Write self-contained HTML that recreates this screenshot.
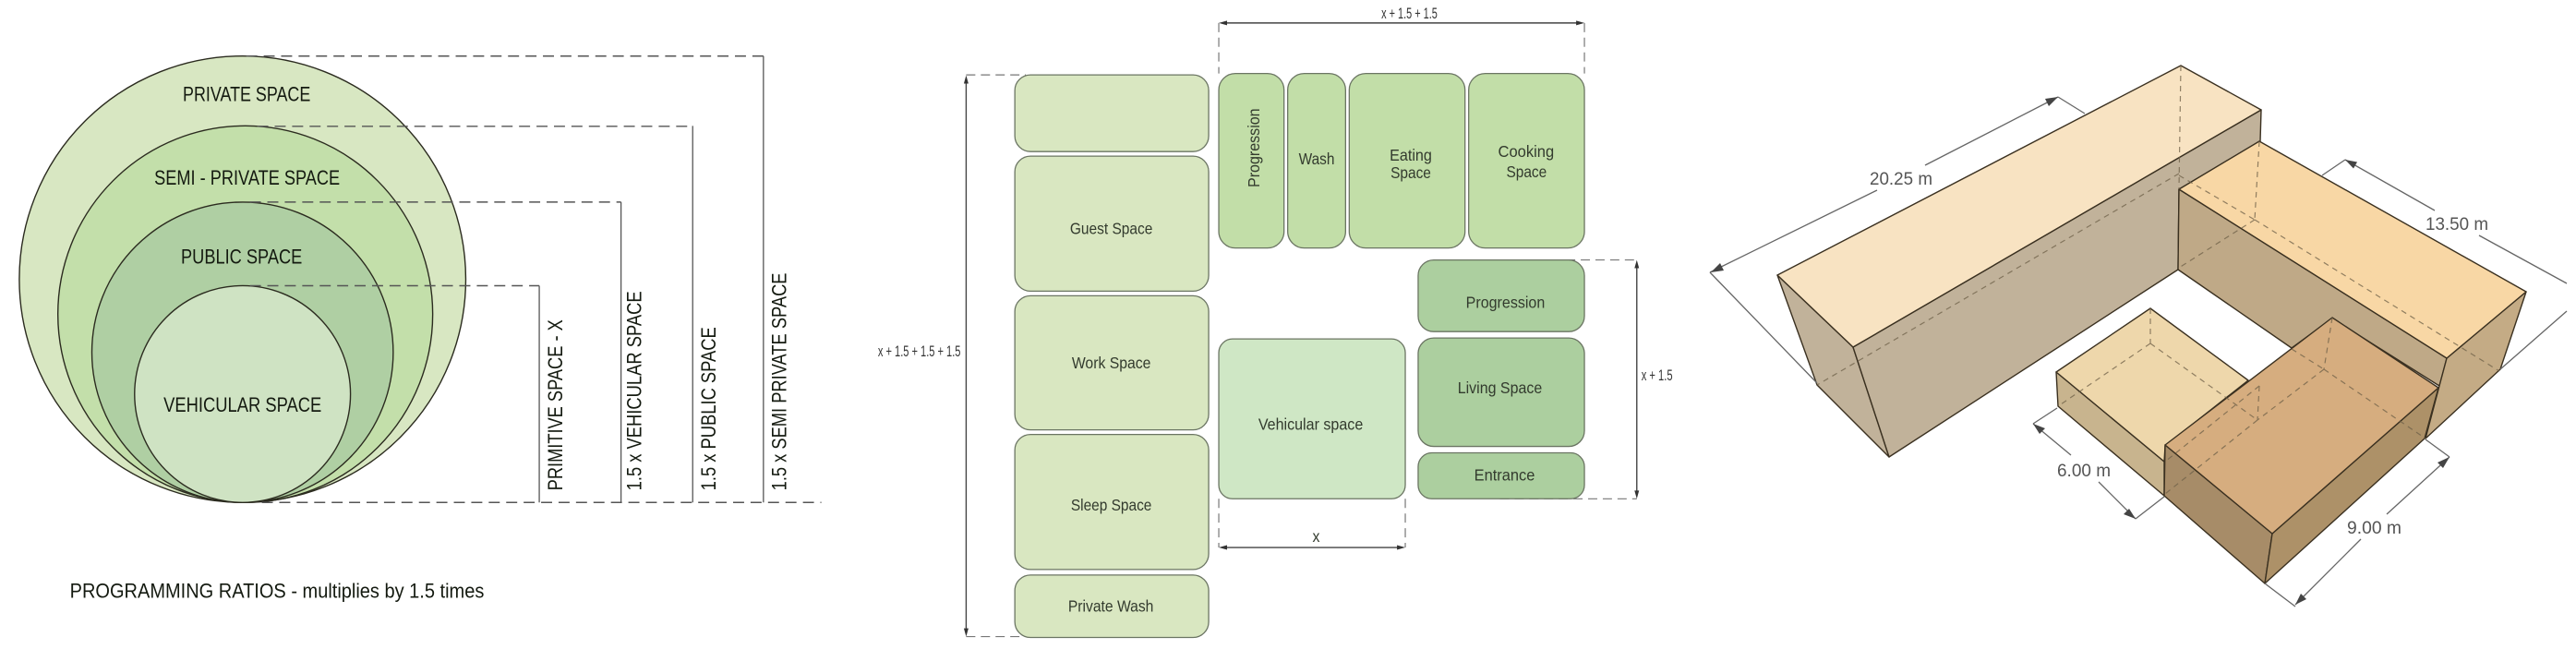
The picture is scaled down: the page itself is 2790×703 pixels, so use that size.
<!DOCTYPE html>
<html><head><meta charset="utf-8"><style>
html,body{margin:0;padding:0;background:#fff;width:2790px;height:703px;overflow:hidden}
svg{display:block}
text{font-family:"Liberation Sans",sans-serif;fill:#222}
.a{font-size:22px;fill:#141a10}
.b{font-size:18px;fill:#333b2e}
.d{font-size:17px;fill:#333}
.m{font-size:19px;fill:#555}
.c1 circle,.c1 ellipse{stroke:#2b2b1f;stroke-width:1.4}
.r rect{stroke:#6b7563;stroke-width:1.3}
.dash{stroke:#555;stroke-width:1.5;stroke-dasharray:12 7;fill:none}
.sol{stroke:#555;stroke-width:1.3;fill:none}
.dl{stroke:#777;stroke-width:1.2;stroke-dasharray:10 6;fill:none}
.e polygon{stroke:#3a3020;stroke-width:1.4;stroke-linejoin:round}
.h{stroke:#6e6048;stroke-width:1.2;stroke-dasharray:6 5;fill:none;opacity:.75}
.dim{stroke:#666;stroke-width:1.3;fill:none}
</style></head><body>
<svg width="2790" height="703" viewBox="0 0 2790 703" xmlns="http://www.w3.org/2000/svg">
<rect width="2790" height="703" fill="#fff"/>

<g transform="scale(.995)">
<!-- Circles -->
<g class="c1">
<ellipse cx="264" cy="304" rx="243" ry="243" fill="#d8e7c2"/>
<ellipse cx="267" cy="342" rx="204" ry="205" fill="#c3dfaa"/>
<ellipse cx="264" cy="383.500" rx="164" ry="163.500" fill="#afcfa3"/>
<ellipse cx="264" cy="429" rx="117.500" ry="118" fill="#cfe3c3"/>
</g>
<g class="dash">
<path d="M268 61H831"/><path d="M280 137.500H754"/><path d="M272 220H676"/><path d="M272 311H587"/><path d="M285 547H894"/>
</g>
<g class="sol">
<path d="M831 61V547"/><path d="M754 137V547"/><path d="M676 220V547"/><path d="M587 311V547"/>
</g>
<text class="a" x="199" y="110" textLength="139" lengthAdjust="spacingAndGlyphs">PRIVATE SPACE</text>
<text class="a" x="168" y="201" textLength="202" lengthAdjust="spacingAndGlyphs">SEMI - PRIVATE SPACE</text>
<text class="a" x="197" y="287" textLength="132" lengthAdjust="spacingAndGlyphs">PUBLIC SPACE</text>
<text class="a" x="178" y="448" textLength="172" lengthAdjust="spacingAndGlyphs">VEHICULAR SPACE</text>
<text class="a" x="76" y="651" textLength="451" lengthAdjust="spacingAndGlyphs">PROGRAMMING RATIOS - multiplies by 1.5 times</text>
<text class="a" transform="translate(612,534) rotate(-90)" textLength="186" lengthAdjust="spacingAndGlyphs">PRIMITIVE SPACE - X</text>
<text class="a" transform="translate(698,534) rotate(-90)" textLength="217" lengthAdjust="spacingAndGlyphs">1.5 x VEHICULAR SPACE</text>
<text class="a" transform="translate(779,534) rotate(-90)" textLength="178" lengthAdjust="spacingAndGlyphs">1.5 x PUBLIC SPACE</text>
<text class="a" transform="translate(856,534) rotate(-90)" textLength="237" lengthAdjust="spacingAndGlyphs">1.5 x SEMI PRIVATE SPACE</text>
</g>

<!-- Plan -->
<g transform="translate(930 0) scale(.995) translate(-930 0)">
<g class="dl">
<path d="M1322 25V80"/><path d="M1720 25V80"/>
<path d="M1047 81.500H1112"/><path d="M1047 693H1110"/>
<path d="M1700 283H1777"/><path d="M1628 543H1777"/>
<path d="M1322 543V596"/><path d="M1525 543V596"/>
</g>
<g class="r">
<g fill="#d9e7c1">
<rect x="1100" y="81.500" width="211" height="83.500" rx="17"/>
<rect x="1100" y="170" width="211" height="147" rx="17"/>
<rect x="1100" y="322" width="211" height="146" rx="17"/>
<rect x="1100" y="473" width="211" height="147" rx="17"/>
<rect x="1100" y="626" width="211" height="68" rx="17"/>
</g>
<g fill="#c2dea8">
<rect x="1322" y="80" width="71" height="190" rx="18"/>
<rect x="1397" y="80" width="63" height="190" rx="18"/>
<rect x="1464" y="80" width="126" height="190" rx="18"/>
<rect x="1594" y="80" width="126" height="190" rx="18"/>
</g>
<g fill="#accf9f">
<rect x="1539" y="283" width="181" height="78" rx="17"/>
<rect x="1539" y="368" width="181" height="118" rx="17"/>
<rect x="1539" y="493" width="181" height="50" rx="15"/>
</g>
<rect x="1322" y="369" width="203" height="174" rx="15" fill="#cfe7c5"/>
</g>
<g stroke="#444" stroke-width="1.4" fill="none">
<path d="M1330 25H1712"/><path d="M1047 88V687"/><path d="M1777 290V537"/><path d="M1330 596H1517"/>
</g>
<g fill="#333">
<polygon points="1322,25 1331,22.500 1331,27.500"/><polygon points="1720,25 1711,22.500 1711,27.500"/>
<polygon points="1047,82 1044.500,91 1049.500,91"/><polygon points="1047,693 1044.500,684 1049.500,684"/>
<polygon points="1777,283 1774.500,292 1779.500,292"/><polygon points="1777,543 1774.500,534 1779.500,534"/>
<polygon points="1322,596 1331,593.500 1331,598.500"/><polygon points="1525,596 1516,593.500 1516,598.500"/>
</g>
<text class="d" x="1499" y="20" textLength="61" lengthAdjust="spacingAndGlyphs">x + 1.5 + 1.5</text>
<text class="d" x="951" y="388" textLength="90" lengthAdjust="spacingAndGlyphs">x + 1.5 + 1.5 + 1.5</text>
<text class="d" x="1782" y="414" textLength="34" lengthAdjust="spacingAndGlyphs">x + 1.5</text>
<text class="b" x="1424" y="590" textLength="8" lengthAdjust="spacingAndGlyphs">x</text>
<text class="b" x="1160" y="255" textLength="90" lengthAdjust="spacingAndGlyphs">Guest Space</text>
<text class="b" x="1162" y="401" textLength="86" lengthAdjust="spacingAndGlyphs">Work Space</text>
<text class="b" x="1161" y="556" textLength="88" lengthAdjust="spacingAndGlyphs">Sleep Space</text>
<text class="b" x="1158" y="666" textLength="93" lengthAdjust="spacingAndGlyphs">Private Wash</text>
<text class="b" transform="translate(1366,204) rotate(-90)" textLength="86" lengthAdjust="spacingAndGlyphs">Progression</text>
<text class="b" x="1409" y="179" textLength="39" lengthAdjust="spacingAndGlyphs">Wash</text>
<text class="b" x="1508" y="175" textLength="46" lengthAdjust="spacingAndGlyphs">Eating</text>
<text class="b" x="1509" y="194" textLength="44" lengthAdjust="spacingAndGlyphs">Space</text>
<text class="b" x="1626" y="171" textLength="61" lengthAdjust="spacingAndGlyphs">Cooking</text>
<text class="b" x="1635" y="193" textLength="44" lengthAdjust="spacingAndGlyphs">Space</text>
<text class="b" x="1591" y="335" textLength="86" lengthAdjust="spacingAndGlyphs">Progression</text>
<text class="b" x="1582" y="428" textLength="92" lengthAdjust="spacingAndGlyphs">Living Space</text>
<text class="b" x="1600" y="523" textLength="66" lengthAdjust="spacingAndGlyphs">Entrance</text>
<text class="b" x="1365" y="468" textLength="114" lengthAdjust="spacingAndGlyphs">Vehicular space</text>
</g>

<!-- 3D massing -->
<g class="e">
<polygon points="1925,298 2007,376 2046,495 1968,417" fill="#c1b29a"/>
<polygon points="2007,376 2449,119 2448,153 2360,205 2359,292 2046,495" fill="#c1b29a"/>
<polygon points="2362,71 2449,119 2007,376 1925,298" fill="#f8e3c2"/>
<polygon points="2360,205 2650,388 2642,418 2526,345 2482,377 2359,292" fill="#bfa987"/>
<polygon points="2650,388 2736,316 2708,400 2627,475 2642,418" fill="#c4ab85"/>
<polygon points="2447,153 2736,316 2650,388 2360,205" fill="#f8d7a5"/>
<polygon points="2227,403 2344,500 2344,537 2229,440" fill="#c8b48e"/>
<polygon points="2329,334 2435,412 2345,483 2344,500 2227,403" fill="#eed7ab"/>
<polygon points="2345,482 2461,578 2453,632 2344,537" fill="#a78c68"/>
<polygon points="2461,578 2641,420 2626,475 2453,632" fill="#ad9168"/>
<polygon points="2526,344 2641,420 2461,578 2345,482" fill="#d6ad7f"/>
</g>
<g class="h">
<path d="M2362,71 L2360,205"/><path d="M2360,188 L1968,417"/>
<path d="M2447,153 L2442,238"/><path d="M2442,238 L2360,290"/><path d="M2442,238 L2707,402"/><path d="M2360,190 L2442,238"/>
<path d="M2329,334 V372"/><path d="M2329,372 L2229,440"/><path d="M2329,372 L2445,455"/>
<path d="M2447,418 L2445,455"/><path d="M2447,418 L2345,500"/><path d="M2445,455 L2345,535"/>
<path d="M2526,344 L2517,400"/><path d="M2517,400 L2445,455"/><path d="M2517,400 L2627,475"/><path d="M2482,378 L2517,400"/>
</g>
<g class="dim">
<path d="M1852,295 L2033,206"/><path d="M2085,179 L2229,105"/><path d="M1852,295 L1968,415"/><path d="M2229,105 L2258,123"/>
<path d="M2540,173 L2637,228"/><path d="M2685,255 L2780,307"/><path d="M2540,173 L2515,190"/><path d="M2780,337 L2708,400"/>
<path d="M2653,495 L2585,557"/><path d="M2557,584 L2486,655"/><path d="M2627,476 L2653,495"/><path d="M2453,632 L2486,657"/>
<path d="M2202,459 L2243,493"/><path d="M2273,522 L2313,562"/><path d="M2228,442 L2202,459"/><path d="M2344,538 L2313,562"/>
</g>
<g fill="#444">
<polygon points="1853,295 1867,293 1863,285"/>
<polygon points="2229,105 2219,115 2215,107"/>
<polygon points="2540,173 2553,175.500 2549,182.500"/>
<polygon points="2653,495 2646,507 2640,501"/>
<polygon points="2486,655 2498,649 2492,643"/>
<polygon points="2202,459 2215,464 2209,470"/>
<polygon points="2313,562 2306,551 2300,557"/>
</g>
<text class="m" x="2025" y="200" textLength="68" lengthAdjust="spacingAndGlyphs">20.25 m</text>
<text class="m" x="2627" y="249" textLength="68" lengthAdjust="spacingAndGlyphs">13.50 m</text>
<text class="m" x="2542" y="578" textLength="59" lengthAdjust="spacingAndGlyphs">9.00 m</text>
<text class="m" x="2228" y="516" textLength="58" lengthAdjust="spacingAndGlyphs">6.00 m</text>
</svg>
</body></html>
